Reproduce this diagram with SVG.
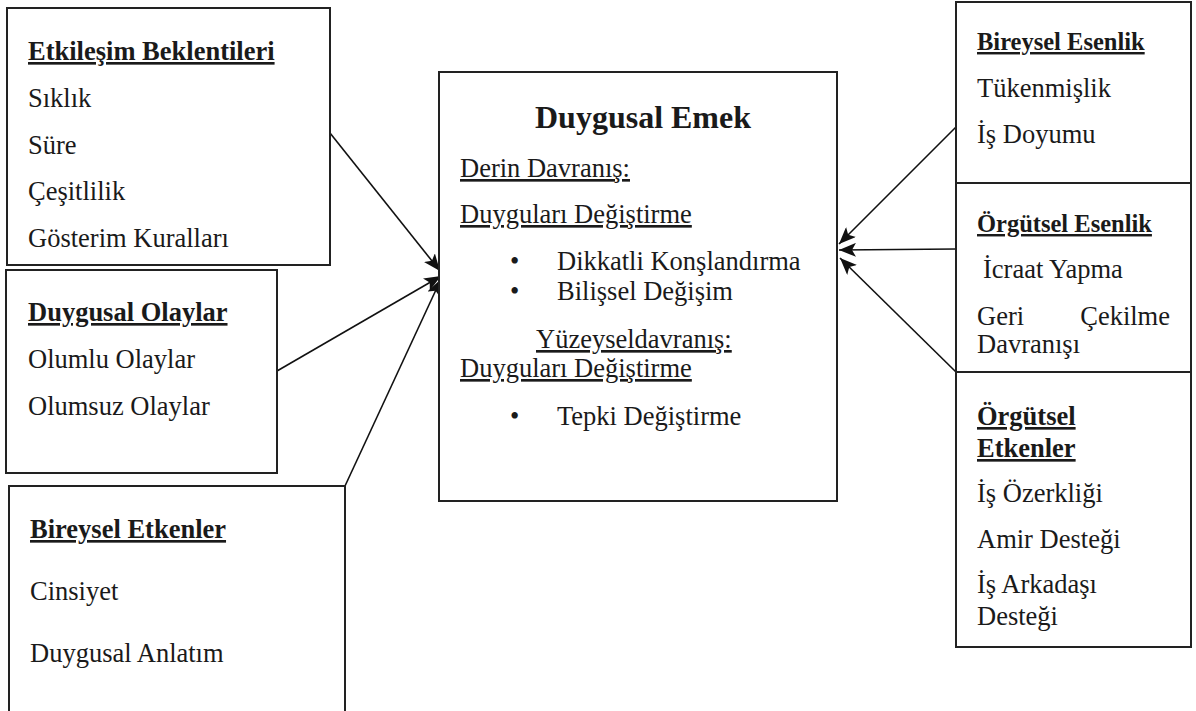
<svg xmlns="http://www.w3.org/2000/svg" width="1196" height="711" viewBox="0 0 1196 711">
  <style>
    .box { fill: #fff; stroke: #222; stroke-width: 2; }
    .t { font-family: "Liberation Serif", "Times New Roman", serif; font-size: 26.5px; fill: #1a1a1a; }
    .b { font-weight: bold; text-decoration: underline; }
    .s { font-size: 24.5px; }
    .u { text-decoration: underline; }
    .h { font-size: 32px; font-weight: bold; }
    .link { stroke: #111; stroke-width: 1.6; fill: none; marker-end: url(#head); }
  </style>
  <defs>
    <marker id="head" viewBox="0 0 17 14" refX="17" refY="7" markerWidth="17" markerHeight="14" markerUnits="userSpaceOnUse" orient="auto">
      <path d="M0,0 L17,7 L0,14 L4,7 Z" fill="#111"/>
    </marker>
  </defs>
  <rect width="1196" height="711" fill="#fff"/>

  <g id="connectors">
    <line class="link" x1="330" y1="133" x2="440" y2="271"/>
    <line class="link" x1="277" y1="371" x2="441" y2="276"/>
    <line class="link" x1="345" y1="486" x2="441" y2="279"/>
    <line class="link" x1="956" y1="127" x2="839" y2="244"/>
    <line class="link" x1="956" y1="249" x2="839" y2="250"/>
    <line class="link" x1="956" y1="372" x2="840" y2="258"/>
  </g>

  <g id="etkilesim-beklentileri">
    <rect class="box" x="7" y="8" width="323" height="257"/>
    <text class="t b" x="28" y="60">Etkileşim Beklentileri</text>
    <text class="t" x="28" y="107">Sıklık</text>
    <text class="t" x="28" y="154">Süre</text>
    <text class="t" x="28" y="200">Çeşitlilik</text>
    <text class="t" x="28" y="247">Gösterim Kuralları</text>
  </g>

  <g id="duygusal-olaylar">
    <rect class="box" x="6" y="270" width="271" height="203"/>
    <text class="t b" x="28" y="321">Duygusal Olaylar</text>
    <text class="t" x="28" y="368">Olumlu Olaylar</text>
    <text class="t" x="28" y="415">Olumsuz Olaylar</text>
  </g>

  <g id="bireysel-etkenler">
    <rect class="box" x="9" y="486" width="336" height="226"/>
    <text class="t b" x="30" y="538">Bireysel Etkenler</text>
    <text class="t" x="30" y="600">Cinsiyet</text>
    <text class="t" x="30" y="662">Duygusal Anlatım</text>
  </g>

  <g id="duygusal-emek">
    <rect class="box" x="439" y="72" width="398" height="429"/>
    <text class="t h" x="643" y="128" text-anchor="middle">Duygusal Emek</text>
    <text class="t u" x="460" y="177">Derin Davranış:</text>
    <text class="t u" x="460" y="223">Duyguları Değiştirme</text>
    <text class="t" x="510" y="270">•</text>
    <text class="t" x="557" y="270">Dikkatli Konşlandırma</text>
    <text class="t" x="510" y="300">•</text>
    <text class="t" x="557" y="300">Bilişsel Değişim</text>
    <text class="t u" x="536" y="348">Yüzeyseldavranış:</text>
    <text class="t u" x="460" y="377">Duyguları Değiştirme</text>
    <text class="t" x="510" y="425">•</text>
    <text class="t" x="557" y="425">Tepki Değiştirme</text>
  </g>

  <g id="bireysel-esenlik">
    <rect class="box" x="956" y="2" width="235" height="181"/>
    <text class="t b s" x="977" y="50">Bireysel Esenlik</text>
    <text class="t" x="977" y="97">Tükenmişlik</text>
    <text class="t" x="977" y="143">İş Doyumu</text>
  </g>

  <g id="orgutsel-esenlik">
    <rect class="box" x="956" y="183" width="235" height="189"/>
    <text class="t b s" x="977" y="232">Örgütsel Esenlik</text>
    <text class="t" x="983" y="278">İcraat Yapma</text>
    <text class="t" x="977" y="325">Geri</text>
    <text class="t" x="1170" y="325" text-anchor="end">Çekilme</text>
    <text class="t" x="977" y="353">Davranışı</text>
  </g>

  <g id="orgutsel-etkenler">
    <rect class="box" x="956" y="372" width="235" height="275"/>
    <text class="t b" x="977" y="425">Örgütsel</text>
    <text class="t b" x="977" y="457">Etkenler</text>
    <text class="t" x="977" y="502">İş Özerkliği</text>
    <text class="t" x="977" y="548">Amir Desteği</text>
    <text class="t" x="977" y="593">İş Arkadaşı</text>
    <text class="t" x="977" y="625">Desteği</text>
  </g>
</svg>
